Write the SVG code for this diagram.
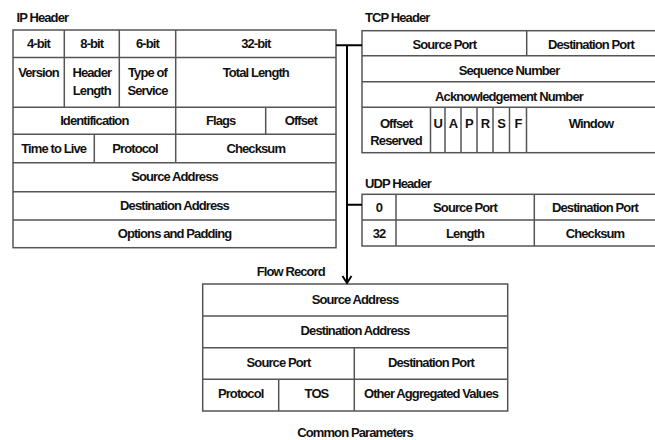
<svg xmlns="http://www.w3.org/2000/svg" width="655" height="440" viewBox="0 0 655 440">
  <style>
    text { font-family: "Liberation Sans", Arial, sans-serif; font-weight: bold; font-size: 13px; letter-spacing: -0.9px; fill: #111; }
    .c { text-anchor: middle; }
    .box { fill: #fff; stroke: #555; stroke-width: 1.5; }
    .ln { stroke: #555; stroke-width: 1.5; fill: none; }
    .wire { stroke: #000; stroke-width: 2; fill: none; }
  </style>
  <rect width="655" height="440" fill="#fff"/>

  <!-- IP header -->
  <g id="ip-header">
    <text x="16.5" y="22">IP Header</text>
    <rect class="box" x="13" y="30" width="323" height="217.7"/>
    <path class="ln" d="M13 57.5H336 M13 107.3H336 M13 134.3H336 M13 162.7H336 M13 191.7H336 M13 220H336
                        M64.3 30V107.3 M119.3 30V107.3 M175.7 30V162.7 M265.7 107.3V134.3 M94.3 134.3V162.7"/>
    <text class="c" x="38.5" y="48">4-bit</text>
    <text class="c" x="91.8" y="48">8-bit</text>
    <text class="c" x="147.5" y="48">6-bit</text>
    <text class="c" x="255.8" y="48">32-bit</text>
    <text class="c" x="38.5" y="76.5">Version</text>
    <text class="c" x="91.8" y="76.5">Header</text>
    <text class="c" x="91.8" y="95">Length</text>
    <text class="c" x="147.5" y="76.5">Type of</text>
    <text class="c" x="147.5" y="95">Service</text>
    <text class="c" x="255.8" y="76.5">Total Length</text>
    <text class="c" x="94.3" y="125">Identification</text>
    <text class="c" x="220.7" y="125">Flags</text>
    <text class="c" x="300.8" y="125">Offset</text>
    <text class="c" x="53.7" y="153">Time to Live</text>
    <text class="c" x="135" y="153">Protocol</text>
    <text class="c" x="255.8" y="153">Checksum</text>
    <text class="c" x="174.5" y="181">Source Address</text>
    <text class="c" x="174.5" y="210">Destination Address</text>
    <text class="c" x="174.5" y="238">Options and Padding</text>
  </g>

  <!-- TCP header -->
  <g id="tcp-header">
    <text x="365" y="22">TCP Header</text>
    <rect class="box" x="362" y="30.7" width="295" height="122"/>
    <path class="ln" d="M362 55.7H657 M362 81.7H657 M362 107.3H657
                        M526.7 30.7V55.7
                        M430.5 107.3V152.7 M445 107.3V152.7 M461 107.3V152.7 M477 107.3V152.7 M493 107.3V152.7 M509.5 107.3V152.7 M526.5 107.3V152.7"/>
    <text class="c" x="444.3" y="48.5">Source Port</text>
    <text class="c" x="591" y="48.5">Destination Port</text>
    <text class="c" x="509" y="74.5">Sequence Number</text>
    <text class="c" x="509" y="101">Acknowledgement Number</text>
    <text class="c" x="396" y="128">Offset</text>
    <text class="c" x="396" y="145">Reserved</text>
    <text class="c" x="437.8" y="128">U</text>
    <text class="c" x="453" y="128">A</text>
    <text class="c" x="469" y="128">P</text>
    <text class="c" x="485" y="128">R</text>
    <text class="c" x="501.2" y="128">S</text>
    <text class="c" x="518" y="128">F</text>
    <text class="c" x="591" y="128">Window</text>
  </g>

  <!-- UDP header -->
  <g id="udp-header">
    <text x="365" y="187.5">UDP Header</text>
    <rect class="box" x="362" y="194.3" width="295" height="51.7"/>
    <path class="ln" d="M362 220H657 M396 194.3V246 M534.3 194.3V246"/>
    <text class="c" x="379" y="211.5">0</text>
    <text class="c" x="465" y="211.5">Source Port</text>
    <text class="c" x="595" y="211.5">Destination Port</text>
    <text class="c" x="379" y="238">32</text>
    <text class="c" x="465" y="238">Length</text>
    <text class="c" x="595" y="238">Checksum</text>
  </g>

  <!-- Flow record -->
  <g id="flow-record">
    <text x="256.7" y="276">Flow Record</text>
    <rect class="box" x="202.7" y="284" width="305" height="127"/>
    <path class="ln" d="M202.7 316H507.7 M202.7 347.7H507.7 M202.7 379.3H507.7 M354.3 347.7V411 M278.7 379.3V411"/>
    <text class="c" x="355" y="303.5">Source Address</text>
    <text class="c" x="355" y="335">Destination Address</text>
    <text class="c" x="278.5" y="366.5">Source Port</text>
    <text class="c" x="431" y="366.5">Destination Port</text>
    <text class="c" x="240.7" y="398">Protocol</text>
    <text class="c" x="316.5" y="398">TOS</text>
    <text class="c" x="431" y="398">Other Aggregated Values</text>
    <text class="c" x="355" y="437">Common Parameters</text>
  </g>

  <!-- connectors -->
  <g id="connectors">
    <path class="wire" d="M336 45.3H362 M347 45.3V282 M347 204.7H362"/>
    <polyline class="wire" points="342.5,276 347,283 351.5,276"/>
  </g>
</svg>
